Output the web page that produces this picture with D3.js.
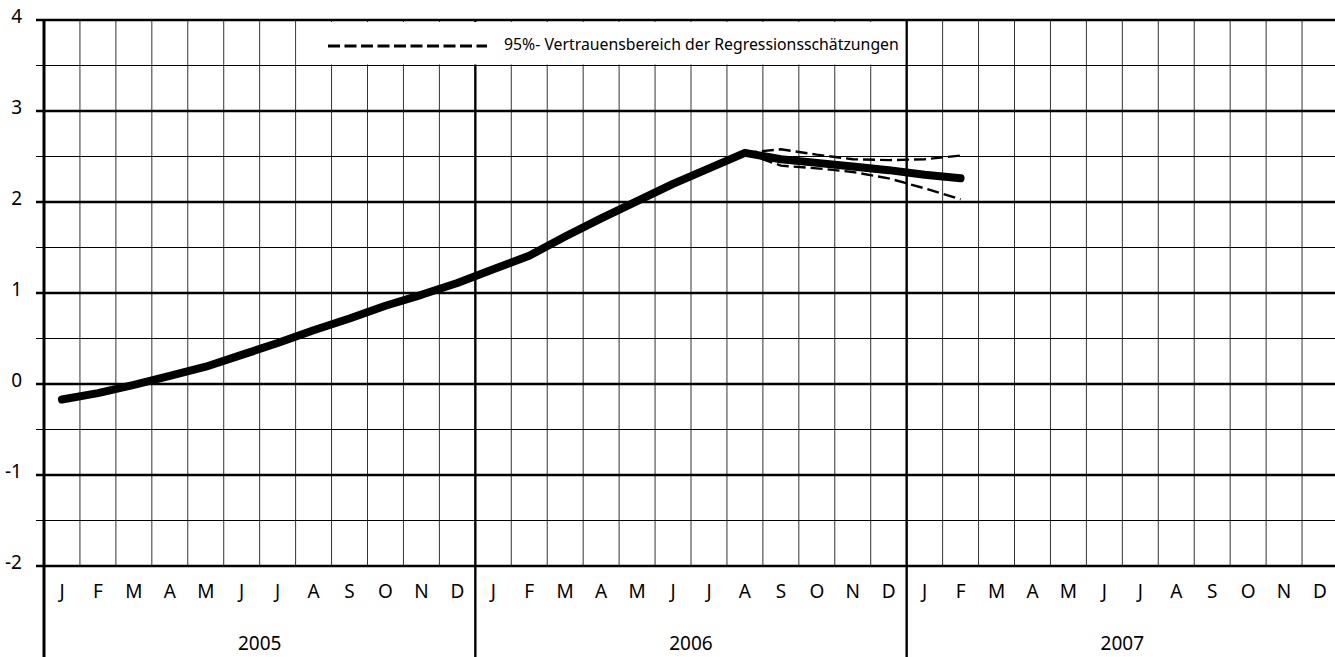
<!DOCTYPE html>
<html lang="de">
    <head>
        <meta charset="utf-8">
        <title>Regressionsschätzung</title>
        <script src="https://cdn.jsdelivr.net/npm/d3@7/dist/d3.min.js"></script>
    </head>

    <style>
        body { margin: 0; background: #fff; }
        svg text { font-family: "Noto Sans", "Open Sans", sans-serif; fill: #000; }
    </style>

    <body>
        <script type="text/javascript">

            // Month letters and year labels for the x axis
            var monthLabels = ["J", "F", "M", "A", "M", "J", "J", "A", "S", "O", "N", "D"];
            var yearLabels = ["2005", "2006", "2007"];

            // y axis tick labels (every 0.5 gets a tick mark, integers get a label)
            var yTicks = [-2, -1.5, -1, -0.5, 0, 0.5, 1, 1.5, 2, 2.5, 3, 3.5, 4];
            var yLabels = [-2, -1, 0, 1, 2, 3, 4];

            // Main series, monthly from Jan 2005 to Feb 2007
            var mainValues = [-0.17, -0.10, -0.01, 0.09, 0.19, 0.32, 0.45, 0.59, 0.72, 0.86, 0.98, 1.11,
                              1.26, 1.41, 1.62, 1.82, 2.01, 2.20, 2.37, 2.54, 2.47, 2.43, 2.39, 2.35,
                              2.30, 2.26];

            // 95% band, from Aug 2006 (month index 19) to Feb 2007
            var bandStart = 19;
            var upperValues = [2.54, 2.58, 2.52, 2.47, 2.46, 2.47, 2.51];
            var lowerValues = [2.54, 2.40, 2.37, 2.33, 2.26, 2.15, 2.03];

            var legendText = "95%- Vertrauensbereich der Regressionsschätzungen";

            var w = 1335, h = 657;
            var svg = d3.select("body").append("svg").attr("width", w).attr("height", h);

            var nMonths = monthLabels.length * yearLabels.length;
            var x = d3.scaleLinear().domain([0, nMonths]).range([44, 1338]);
            var y = d3.scaleLinear().domain([-2, 4]).range([566, 20]);

            // month centre for a month index
            function xc(i) { return x(i + 0.5); }

            var grid = svg.append("g");

            // thin vertical month lines
            grid.selectAll("line.month")
                .data(d3.range(1, nMonths + 1).filter(function(d) { return d % 12 != 0; }))
                .enter().append("line")
                .attr("x1", function(d) { return x(d); })
                .attr("x2", function(d) { return x(d); })
                .attr("y1", y(4))
                .attr("y2", y(-2))
                .attr("stroke", "#333")
                .attr("stroke-width", 1);

            // horizontal lines, thick at integers
            grid.selectAll("line.h")
                .data(yTicks)
                .enter().append("line")
                .attr("x1", 36)
                .attr("x2", w)
                .attr("y1", function(d) { return y(d); })
                .attr("y2", function(d) { return y(d); })
                .attr("stroke", "#000")
                .attr("stroke-width", function(d) { return d % 1 == 0 ? 2.6 : 1; });

            // year boundaries and left axis go all the way down through the labels
            grid.selectAll("line.year")
                .data(d3.range(0, yearLabels.length + 1))
                .enter().append("line")
                .attr("x1", function(d) { return x(d * 12); })
                .attr("x2", function(d) { return x(d * 12); })
                .attr("y1", y(4) - 1)
                .attr("y2", h)
                .attr("stroke", "#000")
                .attr("stroke-width", function(d) { return d == 0 ? 3 : 2.4; });

            // legend box hides the grid behind it (also the 2006 line)
            svg.append("rect")
                .attr("x", x(7) + 1)
                .attr("y", y(4) + 2)
                .attr("width", x(24) - x(7) - 2.5)
                .attr("height", y(3.5) - y(4) - 3)
                .attr("fill", "#fff");

            // y labels
            svg.selectAll("text.ylab")
                .data(yLabels)
                .enter().append("text")
                .attr("x", 22)
                .attr("y", function(d) { return y(d) - 2; })
                .attr("text-anchor", "end")
                .attr("dominant-baseline", "middle")
                .style("font-size", "19px")
                .text(function(d) { return d; });

            // month letters
            svg.selectAll("text.month")
                .data(d3.range(nMonths))
                .enter().append("text")
                .attr("x", function(d) { return xc(d); })
                .attr("y", 593)
                .attr("text-anchor", "middle")
                .attr("dominant-baseline", "middle")
                .style("font-size", "19px")
                .text(function(d) { return monthLabels[d % 12]; });

            // years
            svg.selectAll("text.year")
                .data(yearLabels)
                .enter().append("text")
                .attr("x", function(d, i) { return x(i * 12 + 6); })
                .attr("y", 645)
                .attr("text-anchor", "middle")
                .attr("dominant-baseline", "middle")
                .style("font-size", "19px")
                .text(function(d) { return d; });

            // the band (dashed) first, main line on top
            var line = d3.line()
                .x(function(d) { return xc(d.i); })
                .y(function(d) { return y(d.v); });

            [upperValues, lowerValues].forEach(function(vals) {
                svg.append("path")
                    .datum(vals.map(function(v, k) { return { i: bandStart + k, v: v }; }))
                    .attr("d", line)
                    .attr("fill", "none")
                    .attr("stroke", "#000")
                    .attr("stroke-width", 2.4)
                    .attr("stroke-dasharray", "12,5");
            });

            svg.append("path")
                .datum(mainValues.map(function(v, i) { return { i: i, v: v }; }))
                .attr("d", line)
                .attr("fill", "none")
                .attr("stroke", "#000")
                .attr("stroke-width", 8)
                .attr("stroke-linecap", "round")
                .attr("stroke-linejoin", "round");

            // legend
            svg.append("line")
                .attr("x1", 328).attr("x2", 487)
                .attr("y1", 46).attr("y2", 46)
                .attr("stroke", "#000")
                .attr("stroke-width", 3)
                .attr("stroke-dasharray", "12,4.5");

            var lt = svg.append("text")
                .attr("x", 504)
                .attr("y", 46)
                .attr("dominant-baseline", "middle")
                .style("font-size", "14px")
                .text(legendText);
            // squeeze the legend text to the width seen in the original
            var len = lt.node().getComputedTextLength();
            lt.style("font-size", (14 * 395 / len) + "px");

        </script>
    </body>
</html>
